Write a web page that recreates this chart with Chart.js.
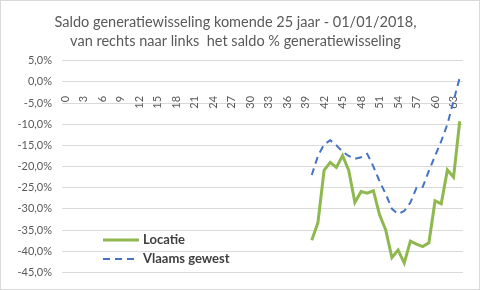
<!DOCTYPE html>
<html>
<head>
<meta charset="utf-8">
<script src="https://cdn.jsdelivr.net/npm/chart.js@4"></script>
<style>
  body { margin: 0; background: #fff; }
  #wrap { width: 480px; height: 290px; border: 1px solid #d9d9d9; box-sizing: border-box; }
</style>
</head>
<body>
<div id="wrap"><canvas id="chart" width="478" height="288"></canvas></div>
<script>
// categories 0..64 (years)
const categories = [];
for (let i = 0; i <= 64; i++) categories.push(String(i));

// values in % (null = no value)
const locatie = [
  null, null, null, null, null, null, null, null, null, null,
  null, null, null, null, null, null, null, null, null, null,
  null, null, null, null, null, null, null, null, null, null,
  null, null, null, null, null, null, null, null, null, null,
  -37.4, -33.3, -20.9, -19.0, -20.2, -17.4, -20.9, -28.5, -25.9, -26.3,
  -25.7, -31.4, -35.0, -41.5, -39.7, -42.8, -37.6, -38.3, -38.9, -38.0,
  -28.1, -28.8, -20.8, -22.5, -9.3
];
const vlaamsGewest = [
  null, null, null, null, null, null, null, null, null, null,
  null, null, null, null, null, null, null, null, null, null,
  null, null, null, null, null, null, null, null, null, null,
  null, null, null, null, null, null, null, null, null, null,
  -22.0, -17.5, -14.8, -13.8, -15.0, -16.5, -17.5, -18.2, -17.8, -17.0,
  -20.0, -23.5, -26.5, -30.0, -31.2, -30.5, -28.5, -25.0, -24.8, -21.0,
  -17.5, -14.0, -10.0, -4.5, 1.0
];

const fmtPct = v => v.toFixed(1).replace('.', ',') + '%';

// legend drawn inside the plot, bottom left
const innerLegend = {
  id: 'innerLegend',
  afterDatasetsDraw(chart) {
    const ctx = chart.ctx;
    const items = chart.data.datasets;
    ctx.save();
    ctx.font = 'bold 13px Lato';
    ctx.fillStyle = '#404040';
    ctx.textBaseline = 'middle';
    items.forEach((ds, i) => {
      const y = 239 + i * 19;
      ctx.beginPath();
      ctx.strokeStyle = ds.borderColor;
      ctx.lineWidth = ds.borderWidth;
      ctx.setLineDash(ds.borderDash || []);
      ctx.moveTo(102, y);
      ctx.lineTo(138, y);
      ctx.stroke();
      ctx.setLineDash([]);
      ctx.fillText(ds.label, 142, y);
    });
    ctx.restore();
  }
};

const ctx = document.getElementById('chart').getContext('2d');
new Chart(ctx, {
  type: 'line',
  data: {
    labels: categories,
    datasets: [
      {
        label: 'Locatie',
        data: locatie,
        borderColor: '#8fb84e',
        borderWidth: 3,
        pointRadius: 0,
        tension: 0,
        fill: false
      },
      {
        label: 'Vlaams gewest',
        data: vlaamsGewest,
        borderColor: '#4472c4',
        borderWidth: 2,
        borderDash: [7, 5],
        pointRadius: 0,
        tension: 0,
        fill: false
      }
    ]
  },
  options: {
    responsive: false,
    animation: false,
    layout: { padding: { top: 0, left: 0, right: 9, bottom: 14 } },
    plugins: {
      legend: { display: false },
      tooltip: { enabled: false },
      title: {
        display: true,
        text: ['Saldo generatiewisseling komende 25 jaar - 01/01/2018,', 'van rechts naar links  het saldo % generatiewisseling'],
        color: '#595959',
        font: { family: 'Lato', size: 14.5, weight: 'normal', lineHeight: 1.3 },
        padding: { top: 12, bottom: 10 }
      }
    },
    scales: {
      x: {
        type: 'category',
        position: { y: 0 },
        offset: true,
        grid: { display: false },
        border: { display: false },
        ticks: {
          autoSkip: false,
          minRotation: 90,
          maxRotation: 90,
          padding: 6,
          color: '#595959',
          font: { family: 'Lato', size: 11 },
          callback: function (value, index) {
            return index % 3 === 0 ? this.getLabelForValue(value) : '';
          }
        },
        afterFit: scale => { scale.height = 0; }
      },
      y: {
        min: -45,
        max: 5,
        ticks: {
          stepSize: 5,
          padding: 10,
          color: '#595959',
          font: { family: 'Lato', size: 11 },
          callback: v => fmtPct(v)
        },
        grid: { color: '#d9d9d9', lineWidth: 1, drawTicks: false },
        border: { display: false },
        afterFit: scale => { scale.width = 61; }
      }
    }
  },
  plugins: [innerLegend]
});
</script>
</body>
</html>
